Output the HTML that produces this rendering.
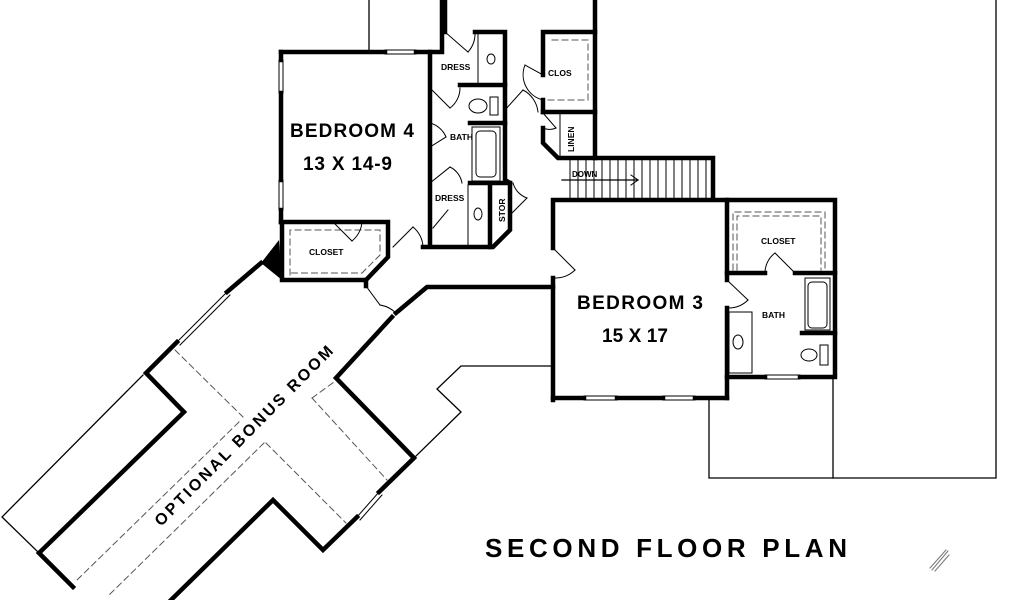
<!DOCTYPE html>
<html><head><meta charset="utf-8"><style>
html,body{margin:0;padding:0;background:#fff;}
svg{display:block;}
text{font-family:"Liberation Sans",sans-serif;fill:#000;}
</style></head><body>
<svg width="1024" height="600" viewBox="0 0 1024 600" xmlns="http://www.w3.org/2000/svg">
<g fill="none" stroke="#000" stroke-linecap="square">
<g stroke-width="1.3">
<line x1="369" y1="0" x2="369" y2="50"/>
<polyline points="996,0 996,478 709,478 709,400"/>
<line x1="833" y1="377" x2="833" y2="478"/>
<polyline points="553,366 461,366 437,389 461,412 414,458"/>
<polyline points="143,375 2,517 39,553"/>
</g>
<g stroke-width="4.5">
<polyline points="442,0 442,52 416,52"/>
<line x1="385" y1="52" x2="281" y2="52"/>
<polyline points="281,52 281,60"/><line x1="281" y1="93" x2="281" y2="180"/><line x1="281" y1="210" x2="281" y2="222"/>
<polyline points="281,222 388,222 388,257 366,280 282,280 282,222"/>
<line x1="430" y1="52" x2="430" y2="245"/>
<polyline points="423,247 493,247 510,230 510,183 505,180 505,32 475,32"/>
<line x1="445" y1="0" x2="445" y2="32"/>
<line x1="460" y1="85" x2="505" y2="85"/>
<line x1="470" y1="123" x2="505" y2="123"/>
<line x1="470" y1="183" x2="510" y2="183"/>
<line x1="490" y1="183" x2="490" y2="247"/>
<polyline points="543,75 543,32 595,32"/>
<line x1="543" y1="100" x2="543" y2="112"/>
<line x1="543" y1="112" x2="595" y2="112"/>
<polyline points="543,128 543,143 558,158 713,158 713,198"/>
<line x1="595" y1="0" x2="595" y2="158"/>
<polyline points="553,248 553,200 835,200 835,377 800,377"/>
<line x1="765" y1="377" x2="727" y2="377"/>
<line x1="553" y1="278" x2="553" y2="400"/>
<line x1="553" y1="398" x2="584" y2="398"/><line x1="617" y1="398" x2="663" y2="398"/><line x1="695" y1="398" x2="727" y2="398"/>
<line x1="727" y1="200" x2="727" y2="280"/><line x1="727" y1="308" x2="727" y2="398"/>
<line x1="727" y1="273" x2="765" y2="273"/><line x1="795" y1="273" x2="835" y2="273"/>
<line x1="802" y1="333" x2="835" y2="333"/>
<polyline points="553,287 427,287 396,313"/>
<polyline points="392,317 336,378 414,458 379,492"/>
<polyline points="357,517 323,550 273,500 171,600"/>
<polyline points="261,263 227,292"/>
<polyline points="177,342 146,373 184,412 39,553 73,587"/>
<line x1="366" y1="280" x2="366" y2="286"/>
</g>
<polygon points="261,263 279,240 282,280" fill="#000" stroke="none"/>
<g stroke-width="1">
<rect x="385" y="50" width="31" height="4"/>
<rect x="279" y="60" width="4" height="33"/>
<rect x="279" y="180" width="4" height="30"/>
<rect x="584" y="396" width="33" height="4"/>
<rect x="663" y="396" width="32" height="4"/>
<rect x="765" y="375" width="35" height="4"/>
<line x1="227" y1="292" x2="177" y2="342"/><line x1="230" y1="295" x2="180" y2="345"/>
<line x1="379" y1="492" x2="357" y2="517"/><line x1="382" y1="495" x2="360" y2="520"/>
</g>
<g stroke-width="1" stroke-dasharray="6,4" stroke="#555">
<line x1="175" y1="350" x2="243" y2="417"/>
<line x1="239" y1="422" x2="77" y2="580"/>
<line x1="264" y1="443" x2="107" y2="597"/>
<line x1="266" y1="443" x2="346" y2="523"/>
<line x1="312" y1="398" x2="334" y2="382"/>
<line x1="312" y1="398" x2="387" y2="480"/>
<polyline points="290,275 290,230 380,230 380,255 362,273 290,273"/>
<polyline points="548,100 588,100 588,40 548,40"/>
<polyline points="733,270 733,212 825,212 825,270"/>
<polyline points="737,270 737,216 821,216 821,270"/>
</g>
<g stroke-width="1">
<line x1="570" y1="160" x2="570" y2="198"/><line x1="578" y1="160" x2="578" y2="198"/><line x1="586" y1="160" x2="586" y2="198"/><line x1="594" y1="160" x2="594" y2="198"/><line x1="602" y1="160" x2="602" y2="198"/><line x1="610" y1="160" x2="610" y2="198"/><line x1="618" y1="160" x2="618" y2="198"/><line x1="626" y1="160" x2="626" y2="198"/><line x1="634" y1="160" x2="634" y2="198"/><line x1="642" y1="160" x2="642" y2="198"/><line x1="650" y1="160" x2="650" y2="198"/><line x1="658" y1="160" x2="658" y2="198"/><line x1="666" y1="160" x2="666" y2="198"/><line x1="674" y1="160" x2="674" y2="198"/><line x1="682" y1="160" x2="682" y2="198"/><line x1="690" y1="160" x2="690" y2="198"/><line x1="698" y1="160" x2="698" y2="198"/><line x1="706" y1="160" x2="706" y2="198"/>
<line x1="562" y1="180" x2="638" y2="180" stroke-width="1.3"/>
<polyline points="631,175 638,180 631,185"/>
</g>
<g stroke-width="1">
<line x1="478" y1="32" x2="478" y2="85"/><ellipse cx="491" cy="59" rx="4" ry="5"/>
<ellipse cx="478" cy="106" rx="9" ry="7"/><rect x="490" y="97" width="8" height="18"/>
<rect x="472" y="127" width="28" height="54"/><rect x="476" y="131" width="20" height="46" rx="4"/>
<line x1="468" y1="185" x2="468" y2="245"/><ellipse cx="478" cy="214" rx="4" ry="6"/>
<line x1="445" y1="32" x2="468" y2="52"/><path d="M468,52 A28,28 0 0 0 475,32"/>
<line x1="430" y1="88" x2="450" y2="108"/><path d="M450,108 A25,25 0 0 0 460,88"/>
<line x1="430" y1="147" x2="446" y2="137"/><path d="M446,137 A24,24 0 0 0 430,123"/>
<line x1="430" y1="183" x2="450" y2="167"/><path d="M450,167 A22,22 0 0 1 462,183"/>
<line x1="433" y1="228" x2="448" y2="210"/>
<line x1="393" y1="247" x2="413" y2="227"/><path d="M413,227 A28,28 0 0 1 423,247"/>
<line x1="333" y1="222" x2="352" y2="241"/><path d="M352,241 A28,28 0 0 0 362,222"/>
<line x1="510" y1="215" x2="527" y2="198"/><path d="M527,198 A22,22 0 0 1 513,183"/>
<line x1="505" y1="110" x2="523" y2="90"/><path d="M523,90 A28,28 0 0 1 538,112"/>
<line x1="543" y1="75" x2="525" y2="65"/><path d="M525,65 A26,26 0 0 0 543,100"/>
<line x1="543" y1="113" x2="556" y2="128"/><path d="M556,128 A16,16 0 0 1 543,128"/>
<line x1="560" y1="112" x2="560" y2="158"/>
<line x1="553" y1="248" x2="575" y2="270"/><path d="M575,270 A28,28 0 0 1 553,278"/>
<line x1="727" y1="280" x2="748" y2="300"/><path d="M748,300 A28,28 0 0 1 727,308"/>
<line x1="795" y1="273" x2="775" y2="253"/><path d="M775,253 A25,25 0 0 0 765,273"/>
<line x1="366" y1="286" x2="380" y2="305"/><path d="M380,305 A30,30 0 0 1 396,313"/>
<rect x="805" y="278" width="25" height="52"/><rect x="808" y="282" width="19" height="46" rx="4"/>
<ellipse cx="809" cy="355" rx="8" ry="6"/><rect x="820" y="345" width="8" height="20"/>
<rect x="729" y="312" width="23" height="61"/><ellipse cx="738" cy="342" rx="5" ry="7"/>
<line x1="932" y1="570" x2="948" y2="551" stroke="#777"/><line x1="935" y1="571" x2="949" y2="555" stroke="#777"/><line x1="930" y1="568" x2="946" y2="550" stroke="#777"/>
</g>
</g>
<text x="290" y="137" font-size="19" font-weight="bold" textLength="124">BEDROOM 4</text>
<text x="303" y="170" font-size="19" font-weight="bold" textLength="89">13 X 14-9</text>
<text x="577" y="309" font-size="19" font-weight="bold" textLength="126">BEDROOM 3</text>
<text x="602" y="342" font-size="19" font-weight="bold" textLength="66">15 X 17</text>
<text x="441" y="70" font-size="8.5" font-weight="bold">DRESS</text>
<text x="450" y="140" font-size="8.5" font-weight="bold">BATH</text>
<text x="435" y="201" font-size="8.5" font-weight="bold">DRESS</text>
<text x="548" y="76" font-size="8.5" font-weight="bold">CLOS</text>
<text x="761" y="244" font-size="8.5" font-weight="bold">CLOSET</text>
<text x="762" y="318" font-size="8.5" font-weight="bold">BATH</text>
<text x="309" y="255" font-size="8.5" font-weight="bold">CLOSET</text>
<text x="572" y="177" font-size="8" font-weight="bold">DOWN</text>
<text transform="translate(505,222) rotate(-90)" font-size="8.5" font-weight="bold">STOR</text>
<text transform="translate(574,152) rotate(-90)" font-size="8.5" font-weight="bold">LINEN</text>
<text transform="translate(161,527) rotate(-45.3)" font-size="16" font-weight="bold" textLength="246">OPTIONAL BONUS ROOM</text>
<text x="485" y="557" font-size="26" font-weight="bold" textLength="362">SECOND  FLOOR  PLAN</text>
</svg>
</body></html>
